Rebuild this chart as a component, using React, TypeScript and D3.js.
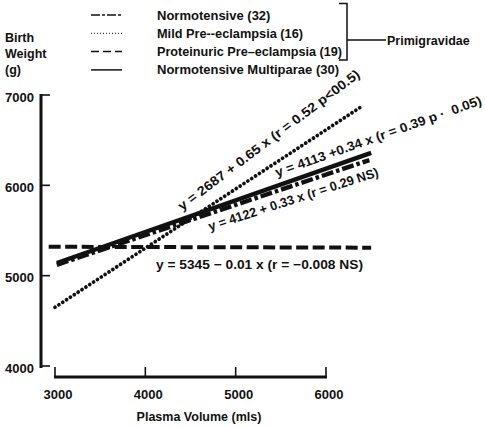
import React from 'react';
import * as d3 from 'd3';

// ---- data ----
const xTicks = [3000, 4000, 5000, 6000];
const yTicks = [4000, 5000, 6000, 7000];
const seriesNames = [
  'Normotensive (32)',
  'Mild Pre--eclampsia (16)',
  'Proteinuric Pre\u2013eclampsia (19)',
  'Normotensive Multiparae (30)',
];
// regression line end points [plasma volume, birth weight]
const normotensive = [[3020, 5120], [6480, 6280]];
const mildPE = [[3000, 4650], [6390, 6870]];
const proteinuricPE = [[2930, 5320], [6500, 5310]];
const multiparae = [[3020, 5140], [6500, 6360]];
const equations = [
  'y = 4122 + 0.33 x (r = 0.29 NS)',
  'y = 2687 + 0.65 x (r = 0.52 p<00.5)',
  'y = 5345 \u2212 0.01 x (r = \u22120.008 NS)',
  'y = 4113 +0.34 x (r = 0.39 p \u00b7  0.05)',
];
const groupLabel = 'Primigravidae';
const yTitle = ['Birth', 'Weight', '(g)'];
const xTitle = 'Plasma Volume (mls)';

const FONT = '"Liberation Sans", Arial, sans-serif';

export default function App() {
  const x = d3.scaleLinear().domain([3000, 6000]).range([55, 326]);
  const y = d3.scaleLinear().domain([4000, 7000]).range([366, 95]);
  const line = d3
    .line<number[]>()
    .x((d) => x(d[0]))
    .y((d) => y(d[1]));

  const series = [
    { data: normotensive, dash: '12 3 3.5 3', width: 4.4, cap: 'butt' },
    { data: mildPE, dash: '0.01 4.6', width: 3.8, cap: 'round' },
    { data: proteinuricPE, dash: '12 4.5', width: 4, cap: 'butt' },
    { data: multiparae, dash: null, width: 4.4, cap: 'butt' },
  ];
  const legendStyles = [
    { dash: '9 2 3 2', width: 1.5 },
    { dash: '1 2', width: 1 },
    { dash: '8 4', width: 1.5 },
    { dash: null, width: 1.5 },
  ];
  const legendLen = [undefined, 146, 185, undefined];

  // annotation placement (layout)
  const ann = [
    { x: 210, y: 231, rot: -18, len: 178 },
    { x: 182, y: 211, rot: -37, len: 224 },
    { x: 156, y: 269, rot: 0, len: 207 },
    { x: 277, y: 177, rot: -19.5, len: 218 },
  ];

  const axisX = 41;
  const axisY = 377;

  return (
    <svg
      width={485}
      height={427}
      style={{ position: 'absolute', left: 0, top: 0, background: '#fff' }}
      fontFamily={FONT}
    >
      <rect width={485} height={427} fill="#fff" />
      {/* y title */}
      {yTitle.map((t, i) => (
        <text key={t} x={5} y={41.5 + i * 16} fontSize={12.5} fontWeight="bold" fill="#111">
          {t}
        </text>
      ))}
      {/* legend */}
      {seriesNames.map((n, i) => {
        const ly = 15 + i * 18.3;
        const st = legendStyles[i];
        const len = legendLen[i];
        return (
          <g key={n}>
            <line
              x1={91}
              x2={122}
              y1={ly}
              y2={ly}
              stroke="#111"
              strokeWidth={st.width}
              strokeDasharray={st.dash || undefined}
            />
            <text
              x={157}
              y={ly + 4.5}
              fontSize={13}
              fontWeight="bold"
              fill="#111"
              textLength={len}
              lengthAdjust={len ? 'spacingAndGlyphs' : undefined}
            >
              {n}
            </text>
          </g>
        );
      })}
      {/* bracket */}
      <path d="M339,3.5 H347 V60 H339" fill="none" stroke="#111" strokeWidth={1.5} />
      <line x1={347} x2={386} y1={40} y2={40} stroke="#111" strokeWidth={1.5} />
      <text x={387} y={44.5} fontSize={12.5} fill="#111" fontWeight="bold">
        {groupLabel}
      </text>

      {/* y axis */}
      <line x1={axisX} x2={axisX} y1={y(7000) - 1} y2={y(4000) + 2} stroke="#111" strokeWidth={3} />
      {yTicks.map((t) => (
        <g key={t}>
          <line x1={axisX} x2={axisX + 9} y1={y(t)} y2={y(t)} stroke="#111" strokeWidth={1.6} />
          <text x={34} y={y(t) + 6.5} fontSize={13} fontWeight="bold" textAnchor="end" fill="#111">
            {t}
          </text>
        </g>
      ))}
      {/* x axis */}
      <line x1={x(3000) - 1} x2={x(6000) + 1} y1={axisY} y2={axisY} stroke="#111" strokeWidth={3} />
      {xTicks.map((t) => (
        <g key={t}>
          <line x1={x(t)} x2={x(t)} y1={axisY} y2={axisY - 10} stroke="#111" strokeWidth={1.6} />
          <text x={x(t) + 3} y={axisY + 22} fontSize={13} fontWeight="bold" textAnchor="middle" fill="#111">
            {t}
          </text>
        </g>
      ))}
      <text x={199} y={421} fontSize={12.5} fontWeight="bold" textAnchor="middle" fill="#111">
        {xTitle}
      </text>

      {/* regression lines */}
      {series.map((s, i) => (
        <path
          key={i}
          d={line(s.data as number[][]) || ''}
          fill="none"
          stroke="#111"
          strokeWidth={s.width}
          strokeLinecap={s.cap as any}
          strokeDasharray={s.dash || undefined}
        />
      ))}
      {/* equations */}
      {equations.map((e, i) => (
        <text
          key={e}
          x={ann[i].x}
          y={ann[i].y}
          transform={`rotate(${ann[i].rot} ${ann[i].x} ${ann[i].y})`}
          fontSize={13}
          fontWeight="bold"
          fill="#111"
          textLength={ann[i].len}
          lengthAdjust="spacingAndGlyphs"
          style={{ whiteSpace: 'pre' }}
        >
          {e}
        </text>
      ))}
    </svg>
  );
}
